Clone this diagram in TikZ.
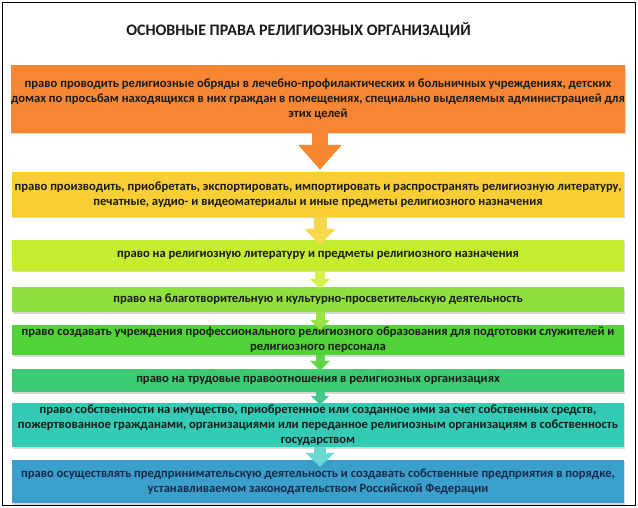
\documentclass[tikz,border=0pt]{standalone}
\usepackage{fontspec}
\setmainfont{Carlito}
\usetikzlibrary{arrows.meta,shadows}
\definecolor{cA}{HTML}{F68735}
\definecolor{cB}{HTML}{F9CE35}
\definecolor{cC}{HTML}{C6EC30}
\definecolor{cD}{HTML}{8EE03C}
\definecolor{cE}{HTML}{50D336}
\definecolor{cF}{HTML}{3DCB72}
\definecolor{cG}{HTML}{34CBB6}
\definecolor{cH}{HTML}{3A9FCB}
\definecolor{aA}{HTML}{F6872F}
\definecolor{aB}{HTML}{F7D84A}
\definecolor{aC}{HTML}{D6F04C}
\definecolor{aD}{HTML}{98E244}
\definecolor{aE}{HTML}{5FD446}
\definecolor{aF}{HTML}{40C98E}
\definecolor{aG}{HTML}{66DAD2}
\definecolor{txt}{HTML}{1A1A1A}
\definecolor{txtb}{HTML}{18294A}
\tikzset{
  rightbox/.style={draw=none, minimum width=612pt, inner sep=0pt, align=center,
    font=\fontsize{12.6}{15}\selectfont\bfseries, text=txt,
    drop shadow={shadow xshift=1pt,shadow yshift=-1.5pt,opacity=0.3}},
  flowarrow/.style={line cap=butt}
}
\begin{document}
\begin{tikzpicture}[x=1pt,y=-1pt]
\useasboundingbox (0,0) rectangle (638,508);
\fill[white] (0,0) rectangle (638,508);
\draw[line width=0.8pt] (2,2) rectangle (635,505);
\node[font=\fontsize{16}{19}\selectfont\bfseries, text=txt] (title) at (298.5,30) {ОСНОВНЫЕ ПРАВА РЕЛИГИОЗНЫХ ОРГАНИЗАЦИЙ};
\node[rightbox, fill=cA, minimum height=68pt] (b1) at (318,99) {право проводить религиозные обряды в лечебно-профилактических и больничных учреждениях, детских\\домах по просьбам находящихся в них граждан в помещениях, специально выделяемых администрацией для\\этих целей};
\node[rightbox, fill=cB, minimum height=45pt] (b2) at (318,194.5) {право производить, приобретать, экспортировать,  импортировать и распространять  религиозную литературу,\\печатные, аудио- и видеоматериалы и иные предметы религиозного назначения};
\node[rightbox, fill=cC, minimum height=31pt] (b3) at (318,255.5) {право на религиозную литературу и предметы религиозного назначения};
\node[rightbox, fill=cD, minimum height=25pt] (b4) at (318,299.5) {право на благотворительную и культурно-просветительскую деятельность};
\node[rightbox, fill=cE, minimum height=30pt] (b5) at (318,340) {право создавать учреждения профессионального религиозного образования  для подготовки служителей и\\религиозного персонала};
\node[rightbox, fill=cF, minimum height=23pt] (b6) at (318,380.5) {право на трудовые правоотношения в религиозных организациях};
\node[rightbox, fill=cG, minimum height=44pt] (b7) at (318,425) {право собственности на имущество, приобретенное или созданное ими за счет собственных средств,\\пожертвованное гражданами, организациями или переданное религиозным организациям в собственность\\государством};
\node[rightbox, fill=cH, minimum height=43pt, text=txtb] (b8) at (318,481.5) {право осуществлять предпринимательскую деятельность и создавать собственные предприятия в порядке,\\устанавливаемом законодательством Российской Федерации};
\draw[flowarrow, aA, line width=16pt, -{Triangle[width=42pt,length=25pt]}] ([xshift=2pt]b1.south) -- ([xshift=2pt,yshift=2pt]b2.north);
\draw[flowarrow, aB, line width=13pt, -{Triangle[width=30pt,length=16pt]}] ([xshift=2pt]b2.south) -- ([xshift=2pt,yshift=-5pt]b3.north);
\draw[flowarrow, aC, line width=10pt, -{Triangle[width=20pt,length=10pt]}] ([xshift=2pt]b3.south) -- ([xshift=2pt,yshift=-2pt]b4.north);
\draw[flowarrow, aD, line width=9pt, -{Triangle[width=19pt,length=10pt]}] ([xshift=2pt]b4.south) -- ([xshift=2pt,yshift=-5pt]b5.north);
\draw[flowarrow, aE, line width=9pt, -{Triangle[width=19pt,length=10pt]}] ([xshift=2pt]b5.south) -- ([xshift=2pt,yshift=-2pt]b6.north);
\draw[flowarrow, aF, line width=9pt, -{Triangle[width=18pt,length=9pt]}] ([xshift=2pt]b6.south) -- ([xshift=2pt,yshift=-2pt]b7.north);
\draw[flowarrow, aG, line width=12pt, -{Triangle[width=28pt,length=14pt]}] ([xshift=2pt]b7.south) -- ([xshift=2pt,yshift=-7pt]b8.north);
\end{tikzpicture}
\end{document}
